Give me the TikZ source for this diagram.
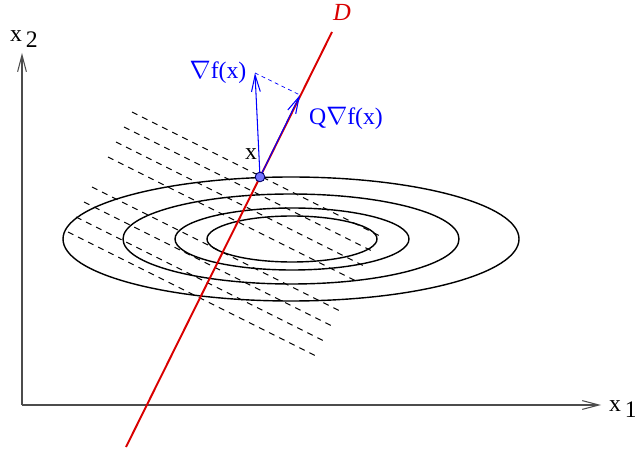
\documentclass[tikz,border=0pt]{standalone}
\usepackage{fontspec}
\setmainfont{Liberation Serif}
\usetikzlibrary{arrows.meta}

\begin{document}
\begin{tikzpicture}[x=0.02cm, y=-0.02cm, >={Straight Barb[length=9.5pt, width=5pt]},
    axis/.style={draw=black!70, line width=0.6pt},
    contour/.style={draw=black, line width=0.8pt},
    levelline/.style={draw=black, line width=0.55pt, dash pattern=on 3.4pt off 3pt},
    vec/.style={draw=blue, line width=0.6pt},
    lbl/.style={inner sep=0pt, font=\fontsize{13.5}{15}\selectfont}]
    \useasboundingbox (0,0) rectangle (635,452);

    % axes
    \coordinate (O) at (22,405);
    \coordinate (e1) at (601,405);
    \coordinate (e2) at (22,53);
    \draw [axis, ->] (O) -- (e1);
    \draw [axis, ->] (O) -- (e2);
    \node [lbl] (x1) at (623,409) {x\,\raisebox{-3.5pt}{1}};
    \node [lbl] (x2) at (24,39) {x\,\raisebox{-3.5pt}{2}};

    % level sets
    \draw [contour] (291,239) ellipse [x radius=228, y radius=62];
    \draw [contour] (291,239) ellipse [x radius=168, y radius=45];
    \draw [contour] (292,239) ellipse [x radius=117, y radius=31];
    \draw [contour] (292,239) ellipse [x radius=85, y radius=23];

    % dashed lines
    \foreach \i in {0,1,2,3,5,6,7,8}
        \draw [levelline] (132-8*\i, 112+15*\i) -- ++(248,124);

    % line D
    \coordinate (Dlow) at (126,447);
    \coordinate (Dhigh) at (332,32);
    \draw [red!85!black, line width=1.1pt] (Dlow) -- (Dhigh);
    \node [inner sep=0pt, text=red!85!black, font=\fontsize{14}{16}\selectfont\itshape] (D) at (342,12) {D};

    % gradient and scaled gradient
    \coordinate (X) at (260,177);
    \coordinate (G) at (255,73);
    \coordinate (Q) at (300,95);
    \draw [vec, ->] (X) -- (G);
    \draw [vec, ->] (X) -- (Q);
    \draw [blue, line width=0.4pt, dash pattern=on 2.2pt off 2pt] (G) -- (Q);
    \node [lbl, text=blue] (grad) at (218,72) {$\nabla$f(x)};
    \node [lbl, text=blue] (qgrad) at (346,118) {Q$\nabla$f(x)};
    \node [lbl] (xlbl) at (251,154) {x};
    \node [circle, draw=blue!40!black, fill=blue!55!white, line width=0.5pt, minimum size=5.5pt, inner sep=0pt] (pt) at (X) {};
\end{tikzpicture}
\end{document}
